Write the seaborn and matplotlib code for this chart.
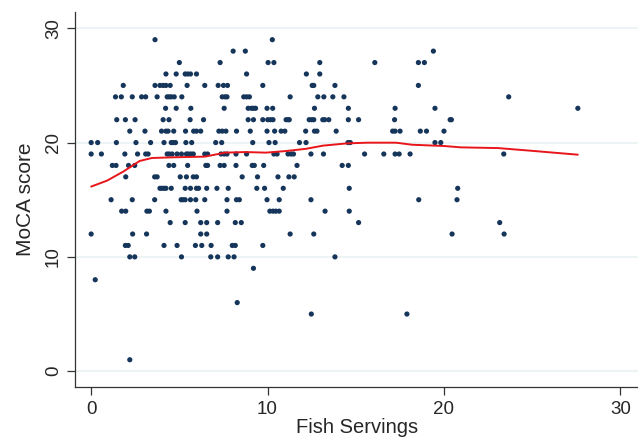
import numpy as np
import pandas as pd
import matplotlib
matplotlib.use('Agg')
import matplotlib.pyplot as plt
import seaborn as sns

scores = [29, 28, 27, 26, 25, 24, 23, 22, 21, 20, 19, 18, 17, 16, 15, 14, 13, 12, 11, 10, 9, 8, 6, 5, 1]
servings_by_score = [
    [3.62, 10.27],
    [8.05, 8.74, 19.40],
    [5.0, 7.31, 10.03, 10.36, 12.96, 16.08, 18.55, 18.89],
    [4.24, 4.82, 5.33, 5.47, 5.63, 5.97, 8.81, 12.2, 12.96],
    [1.82, 3.62, 3.90, 4.08, 4.24, 4.48, 5.44, 6.44, 7.2, 7.5, 7.73, 9.73, 12.53, 12.62, 13.82, 18.55],
    [1.38, 1.71, 2.33, 2.86, 3.09, 3.74, 4.31, 4.43, 4.54, 4.71, 5.14, 7.43, 7.59, 7.7, 8.65, 8.81, 8.97,
     11.28, 12.85, 13.19, 13.7, 14.33, 23.67],
    [4.22, 4.82, 5.65, 7.54, 8.9, 9.09, 9.2, 9.32, 9.97, 10.29, 12.66, 14.58, 17.23, 19.49, 27.59],
    [1.45, 1.94, 2.49, 4.08, 4.41, 5.61, 6.37, 8.9, 9.2, 9.73, 10.01, 10.17, 10.31, 11.05, 11.16, 11.23,
     12.36, 12.5, 12.62, 13.13, 13.24, 13.47, 14.58, 15.16, 17.2, 20.35, 20.42],
    [2.19, 3.05, 3.99, 4.24, 4.36, 4.68, 5.35, 5.81, 5.97, 6.21, 7.24, 7.43, 7.64, 8.24, 9.02, 9.97, 10.4,
     10.77, 10.98, 12.16, 12.66, 12.8, 13.89, 17.09, 17.23, 17.51, 18.66, 19.01, 20.0],
    [0.0, 0.37, 1.43, 2.54, 3.37, 4.13, 4.54, 4.64, 4.78, 5.37, 5.7, 7.06, 7.4, 9.16, 10.08, 10.43, 11.81,
     12.18, 14.56, 14.69, 19.49, 19.82],
    [0.0, 0.58, 1.91, 2.63, 3.09, 3.23, 4.31, 4.43, 4.59, 4.87, 5.12, 5.4, 5.51, 5.65, 5.79, 6.44, 6.6,
     7.36, 7.54, 7.7, 8.21, 8.81, 10.36, 10.54, 11.16, 11.33, 11.47, 12.46, 13.17, 15.5, 16.59, 17.23,
     17.46, 18.08, 23.39],
    [1.2, 1.41, 2.12, 2.47, 4.41, 4.68, 5.47, 6.5, 6.6, 7.31, 7.54, 8.21, 9.13, 9.25, 9.78, 11.67, 14.23, 14.58],
    [1.96, 3.6, 3.74, 5.05, 5.4, 5.79, 5.97, 8.56, 9.43, 10.59, 11.21, 11.51],
    [3.9, 4.01, 4.13, 4.24, 4.54, 5.33, 5.63, 5.97, 6.09, 6.55, 7.13, 7.77, 9.39, 9.83, 10.89, 14.63, 20.78],
    [1.13, 2.33, 3.6, 5.1, 5.21, 5.33, 5.63, 5.93, 6.44, 7.7, 8.24, 8.4, 9.97, 10.66, 12.46, 18.57, 20.74],
    [1.73, 1.96, 3.16, 3.3, 4.24, 6.0, 7.7, 10.13, 10.31, 10.47, 10.66, 13.26, 14.63],
    [4.48, 5.33, 6.21, 6.55, 7.17, 8.17, 8.51, 15.16, 23.16],
    [0.0, 2.35, 3.14, 6.21, 6.55, 11.28, 12.62, 20.46, 23.41],
    [1.94, 2.1, 4.13, 4.87, 5.91, 6.27, 6.8, 8.0, 8.17, 9.73],
    [2.19, 2.47, 5.12, 6.78, 7.17, 7.77, 8.1, 13.82],
    [9.2],
    [0.23],
    [8.28],
    [12.48, 17.9],
    [2.19],
]

# lowess smoother as drawn on the chart
smooth_x = [0.0, 0.9, 1.82, 2.75, 3.44, 4.6, 6.44, 7.6, 8.74, 9.9, 11.05, 12.2, 13.13, 14.5,
            15.66, 17.28, 18.2, 20.0, 20.97, 23.05, 24.9, 27.59]
smooth_y = [16.15, 16.67, 17.46, 18.39, 18.65, 18.71, 18.77, 19.12, 19.17, 19.12, 19.26, 19.46,
            19.73, 19.93, 19.99, 19.99, 19.81, 19.7, 19.58, 19.52, 19.29, 18.94]

rows = []
for s, xs in zip(scores, servings_by_score):
    for x in xs:
        rows.append((x, s))
df = pd.DataFrame(rows, columns=['fish', 'moca'])
df_smooth = pd.DataFrame({'fish': smooth_x, 'moca': smooth_y})

sns.set_style('white')
plt.rcParams['font.family'] = ['Liberation Sans', 'DejaVu Sans']

fig = plt.figure(figsize=(6.38, 4.38), dpi=100)
ax = fig.add_axes([0.118, 0.116, 0.882, 0.856])

for yv in [0, 10, 20, 30]:
    ax.axhline(yv, color='#eaf2f3', lw=1.2, zorder=0)

sns.scatterplot(data=df, x='fish', y='moca', ax=ax, color='#15355a', s=14,
                edgecolor='none', zorder=3)
sns.lineplot(data=df_smooth, x='fish', y='moca', ax=ax, color='#e8151b', lw=1.4,
             zorder=4, estimator=None, sort=False)

ax.set_xlim(-0.9, 31.0)
ax.set_ylim(-1.4, 31.4)
ax.set_xticks([0, 10, 20, 30])
ax.set_yticks([0, 10, 20, 30])
ax.tick_params(axis='both', direction='out', length=6, width=0.9, color='#333333',
               labelsize=13.5, bottom=True, left=True)
ax.tick_params(axis='x', pad=4)
for lab in ax.get_yticklabels():
    lab.set_rotation(90)
    lab.set_va('center')

ax.set_xlabel('Fish Servings', fontsize=14.5, labelpad=0)
ax.set_ylabel('MoCA score', fontsize=15, labelpad=7)

for side in ['top', 'right']:
    ax.spines[side].set_visible(False)
for side in ['left', 'bottom']:
    ax.spines[side].set_color('#333333')
    ax.spines[side].set_linewidth(0.9)

fig.savefig('out.png', dpi=100)
